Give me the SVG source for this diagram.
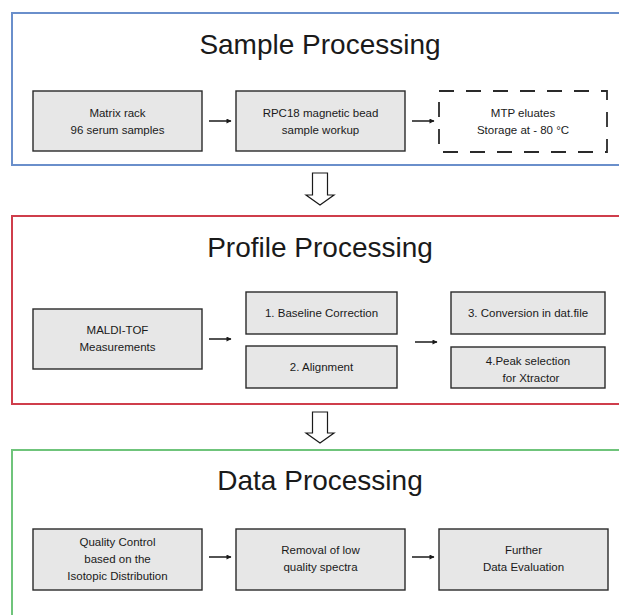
<svg xmlns="http://www.w3.org/2000/svg" width="619" height="615" viewBox="0 0 619 615">
<style>
text{font-family:"Liberation Sans",Arial,sans-serif;fill:#1a1a1a;text-anchor:middle}
.title{font-size:28px}
.lbl{font-size:11.5px}
.box{fill:#e7e7e7;stroke:#2a2a2a;stroke-width:1.4}
.dash{fill:none;stroke:#2a2a2a;stroke-width:1.8;stroke-dasharray:15 12}
.frame{fill:none;stroke-width:2}
.conn{stroke:#1a1a1a;stroke-width:1.5;fill:none}
.hollow{fill:#ffffff;stroke:#1a1a1a;stroke-width:1.2}
</style>
<defs>
<marker id="ah" viewBox="0 0 10 10" refX="9" refY="5" markerWidth="6" markerHeight="5" orient="auto" markerUnits="userSpaceOnUse">
<path d="M0,0 L10,5 L0,10 Z" fill="#1a1a1a"/>
</marker>
</defs>
<rect width="619" height="615" fill="#ffffff"/>

<g id="frame-sample">
<rect class="frame" x="12" y="13" width="620" height="152" stroke="#6a8fcb"/>
<text class="title" x="320" y="54">Sample Processing</text>
</g>
<g id="frame-profile">
<rect class="frame" x="12" y="216" width="620" height="188" stroke="#cf3d4b"/>
<text class="title" x="320" y="257">Profile Processing</text>
</g>
<g id="frame-data">
<rect class="frame" x="12" y="450" width="620" height="180" stroke="#6fc47b"/>
<text class="title" x="320" y="490">Data Processing</text>
</g>

<g id="n-matrix">
<rect class="box" x="33" y="91" width="169" height="60"/>
<text class="lbl" x="117.5" y="117">Matrix rack</text>
<text class="lbl" x="117.5" y="134">96 serum samples</text>
</g>
<g id="n-rpc18">
<rect class="box" x="236" y="91" width="169" height="60"/>
<text class="lbl" x="320.5" y="117">RPC18 magnetic bead</text>
<text class="lbl" x="320.5" y="134">sample workup</text>
</g>
<g id="n-mtp">
<rect class="dash" x="439" y="91" width="168" height="61"/>
<text class="lbl" x="523" y="117">MTP eluates</text>
<text class="lbl" x="523" y="134">Storage at - 80 °C</text>
</g>

<g id="n-maldi">
<rect class="box" x="33" y="309" width="169" height="60"/>
<text class="lbl" x="117.5" y="334">MALDI-TOF</text>
<text class="lbl" x="117.5" y="351">Measurements</text>
</g>
<g id="n-baseline">
<rect class="box" x="246" y="292" width="151" height="42"/>
<text class="lbl" x="321.5" y="317">1. Baseline Correction</text>
</g>
<g id="n-alignment">
<rect class="box" x="246" y="346" width="151" height="42"/>
<text class="lbl" x="321.5" y="371">2. Alignment</text>
</g>
<g id="n-conversion">
<rect class="box" x="451" y="292" width="154" height="42"/>
<text class="lbl" x="528" y="317">3. Conversion in dat.file</text>
</g>
<g id="n-peak">
<rect class="box" x="451" y="347" width="154" height="41"/>
<text class="lbl" x="528" y="365">4.Peak selection</text>
<text class="lbl" x="531" y="382">for Xtractor</text>
</g>

<g id="n-quality">
<rect class="box" x="33" y="529" width="169" height="61"/>
<text class="lbl" x="117.5" y="546">Quality Control</text>
<text class="lbl" x="117.5" y="563">based on the</text>
<text class="lbl" x="117.5" y="580">Isotopic Distribution</text>
</g>
<g id="n-removal">
<rect class="box" x="236" y="529" width="169" height="61"/>
<text class="lbl" x="320.5" y="554">Removal of low</text>
<text class="lbl" x="320.5" y="571">quality spectra</text>
</g>
<g id="n-further">
<rect class="box" x="439" y="529" width="169" height="61"/>
<text class="lbl" x="523.5" y="554">Further</text>
<text class="lbl" x="523.5" y="571">Data Evaluation</text>
</g>

<g id="connectors">
<line class="conn" x1="209" y1="121" x2="231" y2="121" marker-end="url(#ah)"/>
<line class="conn" x1="412" y1="121" x2="434" y2="121" marker-end="url(#ah)"/>
<line class="conn" x1="209" y1="339" x2="231" y2="339" marker-end="url(#ah)"/>
<line class="conn" x1="415" y1="342" x2="437" y2="342" marker-end="url(#ah)"/>
<line class="conn" x1="209" y1="557" x2="231" y2="557" marker-end="url(#ah)"/>
<line class="conn" x1="412" y1="557" x2="434" y2="557" marker-end="url(#ah)"/>
<path class="hollow" d="M312.5,173 L327.5,173 L327.5,195 L334,195 L320,205 L306,195 L312.5,195 Z"/>
<path class="hollow" d="M312.5,412 L327.5,412 L327.5,433 L334,433 L320,443 L306,433 L312.5,433 Z"/>
</g>
</svg>
